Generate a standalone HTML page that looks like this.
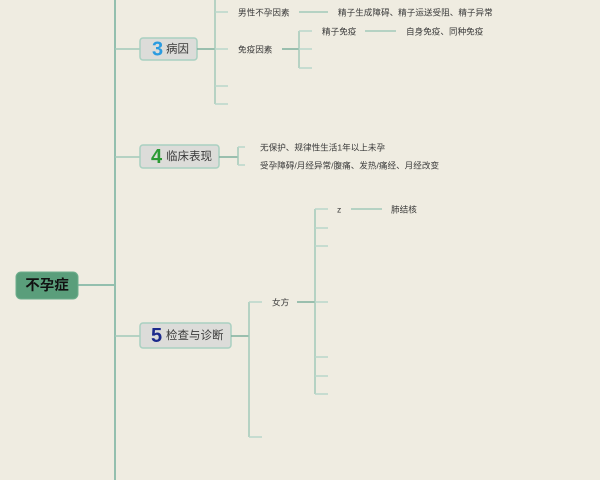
<!DOCTYPE html>
<html><head><meta charset="utf-8"><style>
html,body{margin:0;padding:0;background:#efece1;}
svg{display:block;}
text{font-family:"Liberation Sans","Noto Sans CJK SC",sans-serif;dominant-baseline:central;}
.t{font-size:8.6px;fill:#3a3a3a;}
.bt{font-size:11.5px;fill:#3a3a3a;font-weight:normal;}
.m{stroke:#93bfae;stroke-width:2;fill:none;}
.b{stroke:#a2c9b9;stroke-width:1.5;fill:none;}
.l{stroke:#b9d7ca;stroke-width:1.5;fill:none;}
.d{stroke:#7fb09d;stroke-width:1.5;fill:none;}
.box{fill:#dcdcd9;stroke:#a9d0c1;stroke-width:1.5;}
</style></head><body>
<svg width="600" height="480" viewBox="0 0 600 480">
<rect x="0" y="0" width="600" height="480" fill="#efece1"/>
<!-- spine -->
<line class="m" x1="115" y1="0" x2="115" y2="480"/>
<line class="m" x1="78" y1="285" x2="115" y2="285"/>
<line class="b" x1="115" y1="49" x2="140" y2="49"/>
<line class="b" x1="115" y1="157" x2="140" y2="157"/>
<line class="b" x1="115" y1="336" x2="140" y2="336"/>

<!-- root -->
<rect x="16" y="272" width="62" height="27" rx="5" fill="#5a9e7b" stroke="#6fae8d" stroke-width="1"/>
<text x="47" y="286" text-anchor="middle" style="font-size:14.5px;font-weight:bold;fill:#111;">不孕症</text>

<!-- box 3 -->
<rect class="box" x="140" y="38" width="57" height="22" rx="3"/>
<text x="152" y="49.5" style="font-size:20px;font-weight:bold;fill:#2a9be0;">3</text>
<text x="166" y="49.5" class="bt">病因</text>
<line class="d" x1="197" y1="49" x2="215" y2="49"/>
<line class="b" x1="215" y1="0" x2="215" y2="104"/>
<line class="l" x1="215" y1="12" x2="228" y2="12"/>
<line class="l" x1="215" y1="49" x2="228" y2="49"/>
<line class="l" x1="215" y1="86" x2="228" y2="86"/>
<line class="l" x1="215" y1="104" x2="228" y2="104"/>
<text x="238" y="12.5" class="t">男性不孕因素</text>
<line class="b" x1="299" y1="12" x2="328" y2="12"/>
<text x="338" y="12.5" class="t">精子生成障碍、精子运送受阻、精子异常</text>
<text x="238" y="49.5" class="t">免疫因素</text>
<line class="d" x1="282" y1="49" x2="299" y2="49"/>
<line class="b" x1="299" y1="31" x2="299" y2="68"/>
<line class="l" x1="299" y1="31" x2="312" y2="31"/>
<line class="l" x1="299" y1="49" x2="312" y2="49"/>
<line class="l" x1="299" y1="68" x2="312" y2="68"/>
<text x="322" y="31.5" class="t">精子免疫</text>
<line class="b" x1="365" y1="31" x2="396" y2="31"/>
<text x="406" y="31.5" class="t">自身免疫、同种免疫</text>

<!-- box 4 -->
<rect class="box" x="140" y="145" width="79" height="23" rx="3"/>
<text x="151" y="157" style="font-size:20px;font-weight:bold;fill:#2c9a34;">4</text>
<text x="166" y="157" class="bt">临床表现</text>
<line class="d" x1="219" y1="157" x2="238" y2="157"/>
<line class="b" x1="238" y1="147" x2="238" y2="165"/>
<line class="l" x1="238" y1="147" x2="245" y2="147"/>
<line class="l" x1="238" y1="165" x2="245" y2="165"/>
<text x="260" y="147.5" class="t">无保护、规律性生活1年以上未孕</text>
<text x="260" y="165.5" class="t">受孕障碍/月经异常/腹痛、发热/痛经、月经改变</text>

<!-- box 5 -->
<rect class="box" x="140" y="323" width="91" height="25" rx="3"/>
<text x="151" y="336" style="font-size:20px;font-weight:bold;fill:#1c2a8c;">5</text>
<text x="166" y="336" class="bt">检查与诊断</text>
<line class="d" x1="231" y1="336" x2="249" y2="336"/>
<line class="b" x1="249" y1="302" x2="249" y2="437"/>
<line class="l" x1="249" y1="302" x2="262" y2="302"/>
<line class="l" x1="249" y1="437" x2="262" y2="437"/>
<text x="272" y="302.5" class="t">女方</text>
<line class="d" x1="297" y1="302" x2="315" y2="302"/>
<line class="b" x1="315" y1="209" x2="315" y2="394"/>
<line class="l" x1="315" y1="209" x2="328" y2="209"/>
<line class="l" x1="315" y1="228" x2="328" y2="228"/>
<line class="l" x1="315" y1="246" x2="328" y2="246"/>
<line class="l" x1="315" y1="302" x2="328" y2="302"/>
<line class="l" x1="315" y1="357" x2="328" y2="357"/>
<line class="l" x1="315" y1="376" x2="328" y2="376"/>
<line class="l" x1="315" y1="394" x2="328" y2="394"/>
<text x="337" y="209.5" class="t">z</text>
<line class="b" x1="351" y1="209" x2="382" y2="209"/>
<text x="391" y="209.5" class="t">肺结核</text>
</svg>
</body></html>
